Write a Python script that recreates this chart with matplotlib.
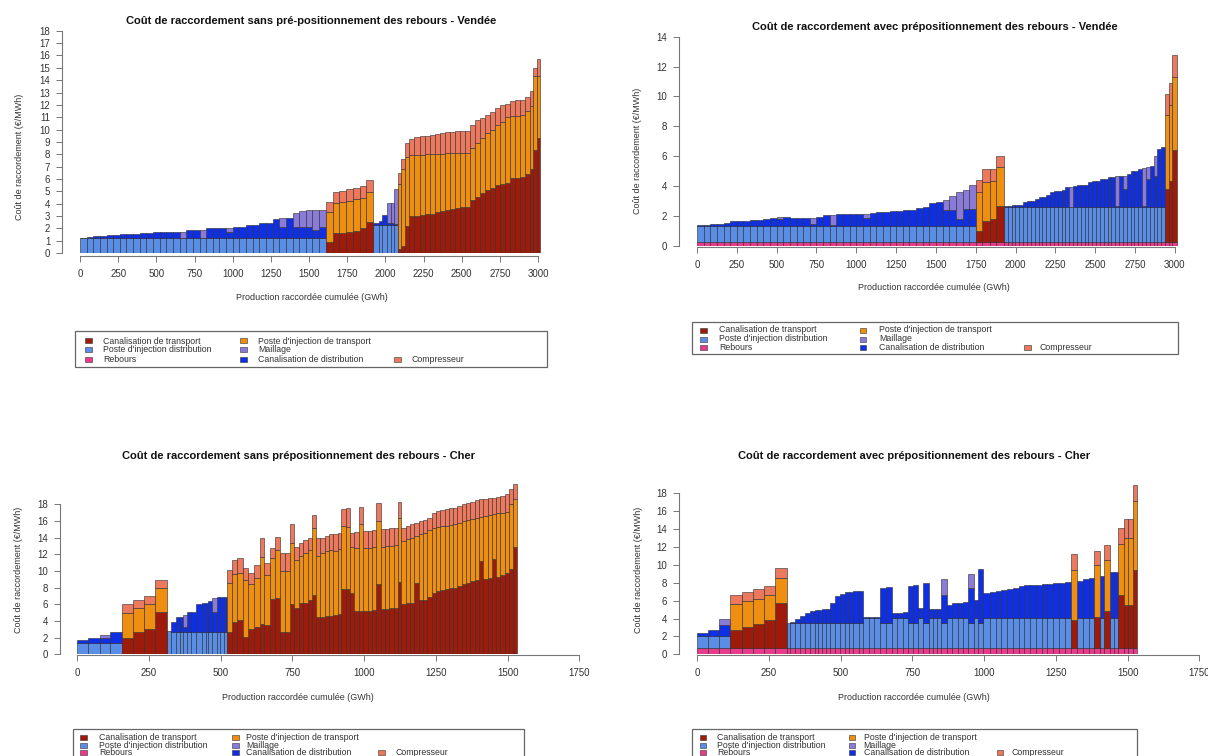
import numpy as np
import matplotlib
matplotlib.use("Agg")
import matplotlib.pyplot as plt
from matplotlib.patches import Rectangle

plt.rcParams['font.family'] = ['Liberation Sans', 'DejaVu Sans']

FIG_W, FIG_H = 1208, 756

# ------------------------------------------------------------------ categories
CT, PID, REB, PIT, MAIL, CD, COMP = ("Canalisation de transport", "Poste d'injection distribution",
                                     "Rebours", "Poste d'injection de transport", "Maillage",
                                     "Canalisation de distribution", "Compresseur")
categories = [CT, PID, REB, PIT, MAIL, CD, COMP]
colors = {CT: "#9e1b0c", PID: "#5a8de6", REB: "#ea3a8c", PIT: "#ef8f12",
          MAIL: "#8b7bd9", CD: "#0f2fe6", COMP: "#ec785e"}

# Each bar is a site: width = production (GWh). Kind "D" (distribution): base=PID, mid=CD, top=Maillage
# Kind "T" (transport): base=Canalisation de transport, mid=Poste d'injection de transport, top=Compresseur

# ------------------------------------------------------------------ Panel 1 : Vendee sans
p1_width = ([43.5] * 37 + [44.5] * 7 + [35, 20, 33, 25, 25, 22]
            + [22, 26, 29] + [33] * 23 + [30, 21, 26, 22])
p1_kind = "D" * 37 + "T" * 7 + "D" * 6 + "T" * 30
p1_base = ([1.2] * 37
           + [0.92, 1.65, 1.65, 1.73, 1.81, 2.0, 2.54]
           + [2.3] * 6
           + [0.3, 0.6, 2.2, 3.0, 3.0, 3.1, 3.2, 3.2, 3.35, 3.43, 3.5, 3.6, 3.65, 3.7, 3.7,
              4.3, 4.57, 4.9, 5.1, 5.3, 5.5, 5.6, 5.7, 6.05, 6.1, 6.2, 6.4, 6.8, 8.35, 9.3])
p1_mid = ([0.07, 0.12, 0.21, 0.21, 0.29, 0.29, 0.37, 0.37, 0.37, 0.45, 0.45, 0.50, 0.53, 0.53,
           0.53, 0.05, 0.66, 0.66, 0.05, 0.8, 0.8, 0.8, 0.55, 0.94, 0.94, 1.07, 1.07, 1.26,
           1.26, 1.53, 0.88, 1.61, 0.9, 0.9, 0.92, 0.66, 0.94]
          + [2.43, 2.43, 2.51, 2.47, 2.54, 2.49, 2.43]
          + [0.16, 0.3, 0.78, 0.16, 0.16, 0.1]
          + [5.3, 6.2, 5.6, 4.95, 4.95, 4.85, 4.8, 4.8, 4.7, 4.62, 4.58, 4.48, 4.43, 4.38, 4.4,
             4.2, 4.33, 4.4, 4.6, 4.7, 4.9, 5.0, 5.3, 5.05, 5.0, 5.0, 5.1, 5.1, 5.95, 5.0])
p1_top = ([0] * 15 + [0.5, 0, 0, 0.65, 0, 0, 0, 0.3] + [0] * 7 + [0.73, 0, 1.17, 1.34, 1.37, 1.64, 1.35]
          + [0.81, 0.89, 0.89, 0.99, 0.95, 0.94, 0.95]
          + [0, 0, 0, 1.57, 1.57, 2.76]
          + [0.9, 0.8, 1.1, 1.27, 1.45, 1.5, 1.5, 1.57, 1.6, 1.67, 1.7, 1.76, 1.8, 1.84, 1.82,
             1.9, 1.9, 1.67, 1.5, 1.45, 1.35, 1.4, 1.1, 1.25, 1.3, 1.2, 1.1, 1.2, 0.67, 1.4])
p1_rebours = 0.0

# ------------------------------------------------------------------ Panel 2 : Vendee avec
p2_width = [41.67] * 42 + [42, 48, 35, 52] + [24.07] * 42 + [25, 20, 27]
p2_kind = "D" * 42 + "T" * 4 + "D" * 42 + "T" * 3
p2_base = [1.08] * 42 + [0.73, 1.41, 1.52, 2.42] + [2.31] * 42 + [3.54, 4.1, 6.12]
p2_mid = ([0.04, 0.08, 0.15, 0.15, 0.22, 0.29, 0.31, 0.33, 0.38, 0.40, 0.47, 0.51, 0.43, 0.56,
           0.53, 0.51, 0.51, 0.15, 0.60, 0.71, 0.05, 0.78, 0.78, 0.78, 0.78, 0.49, 0.89, 0.93,
           0.93, 1.0, 1.0, 1.07, 1.07, 1.18, 1.27, 1.5, 1.6, 1.05, 1.05, 0.45, 1.1, 1.1]
          + [2.59, 2.58, 2.54, 2.58]
          + [0.11, 0.11, 0.18, 0.18, 0.18, 0.33, 0.45, 0.45, 0.56, 0.72, 0.72, 0.85, 1.01, 1.12,
             1.12, 1.19, 1.34, 0.0, 1.41, 1.5, 1.5, 1.52, 1.68, 1.79, 1.79, 1.9, 1.9, 2.02, 2.02,
             0.11, 2.12, 1.22, 2.24, 2.46, 2.46, 2.58, 0.11, 1.92, 2.8, 2.12, 3.92, 4.02]
          + [4.93, 5.03, 4.91])
p2_top = ([0] * 12 + [0.15, 0, 0, 0, 0, 0.36, 0, 0, 0.66, 0, 0, 0, 0, 0.29] + [0] * 11
          + [0.65, 0.95, 1.8, 1.28, 1.65]
          + [0.83, 0.9, 0.83, 0.78]
          + [0] * 17 + [1.34] + [0] * 11 + [2.01, 0, 0.9, 0, 0, 0, 0, 2.51, 0.77, 0, 1.35, 0, 0]
          + [1.46, 1.47, 1.48])
p2_rebours = 0.27

# ------------------------------------------------------------------ Panel 3 : Cher sans
p3_width = ([38, 41, 35, 41] + [38, 39, 39, 40]
            + [17, 16, 14, 12, 12, 16, 16, 19, 14, 10, 11, 18, 12, 12, 13]
            + [17, 18, 18, 20, 21, 20, 13, 21, 19, 18, 16, 16, 16, 16, 16, 16, 14, 14, 15, 15,
               15, 15, 15, 13, 15, 15, 15, 18, 14, 15, 15, 14, 17, 15, 15, 15, 15, 12]
            + [15] * 25 + [13, 15])
p3_kind = "D" * 4 + "T" * 4 + "D" * 15 + "T" * 65
p3_base = ([1.32] * 4 + [2.0, 2.64, 3.04, 5.12] + [2.8] + [2.72] * 14
           + [2.7, 3.9, 4.1, 2.1, 3.0, 3.3, 3.6, 3.5, 6.6, 6.8, 2.7, 2.7, 6.0, 5.5, 6.1, 6.1, 6.5,
              7.1, 4.5, 4.5, 4.6, 4.6, 4.7, 4.8, 7.8, 7.8, 7.3, 5.2, 5.2, 5.2, 5.2, 5.3, 8.4, 5.4,
              5.4, 5.5, 5.5, 8.7, 6.0, 6.1, 6.2, 8.5, 6.5, 6.5, 6.9, 7.3, 7.6, 7.7, 7.8, 7.9, 8.0,
              8.2, 8.4, 8.6, 8.8, 8.9, 11.2, 9.0, 9.1, 11.4, 9.3, 9.5, 9.7, 10.2, 12.9])
p3_mid = ([0.4, 0.68, 0.68, 1.32] + [2.92, 2.88, 2.96, 2.8]
          + [0, 1.2, 1.8, 1.8, 0.6, 2.4, 2.4, 3.32, 3.48, 3.48, 3.68, 2.4, 4.2, 4.2, 4.2]
          + [5.8, 5.7, 5.7, 6.8, 5.4, 5.9, 8.1, 6.0, 4.9, 5.7, 7.3, 7.3, 7.3, 5.8, 5.7, 6.1, 6.0,
             8.0, 7.3, 7.7, 7.8, 7.9, 7.7, 7.8, 7.6, 7.5, 5.6, 7.5, 10.4, 7.6, 7.6, 7.6, 7.6, 7.5,
             7.6, 7.5, 7.6, 7.6, 7.6, 7.7, 7.8, 5.7, 7.9, 8.1, 8.0, 7.9, 7.7, 7.7, 7.6, 7.6, 7.6,
             7.6, 7.6, 7.5, 7.4, 7.4, 5.3, 7.6, 7.6, 5.4, 7.6, 7.5, 7.4, 7.8, 5.7])
p3_top = ([0, 0, 0.32, 0] + [1.08, 1.0, 1.0, 1.0]
          + [0, 0, 0, 0, 1.4, 0, 0, 0, 0, 0, 0, 1.6, 0, 0, 0]
          + [1.6, 1.7, 1.7, 1.5, 1.4, 1.5, 2.2, 1.5, 1.3, 1.6, 2.2, 2.2, 2.3, 1.6, 1.6, 1.5, 1.5,
             1.6, 2.2, 1.8, 1.8, 1.9, 2.0, 1.9, 2.0, 2.2, 1.7, 2.0, 2.1, 2.0, 2.0, 2.0, 2.1, 2.1,
             2.0, 2.1, 2.0, 2.0, 1.6, 1.6, 1.6, 1.6, 1.6, 1.5, 1.5, 1.8, 1.9, 1.9, 2.0, 2.0, 2.0,
             2.0, 2.0, 2.0, 2.1, 2.2, 2.1, 2.0, 2.0, 2.0, 2.0, 2.0, 2.1, 1.8, 1.8])
p3_rebours = 0.0

# ------------------------------------------------------------------ Panel 4 : Cher avec
p4_width = ([38, 39, 37] + [41, 38, 39, 39, 40]
            + [12, 17, 18, 17, 18, 17, 12, 11, 14, 15, 18, 17, 18, 15, 14, 18, 17, 19, 19, 20,
               20, 20, 20, 19, 19, 17, 18, 18, 21, 14, 14, 14, 20, 18, 18, 19, 19, 20, 14, 18,
               23, 20, 20, 20, 20, 20, 20, 20, 20, 20, 20, 20, 20, 22, 22, 20, 21, 19, 19, 20,
               14, 23, 14, 13, 19, 16, 15, 16])
p4_kind = "DDD" + "TTTTT" + "D" * 55 + "T" + "DDD" + "T" + "D" + "T" + "DD" + "TTTT"
p4_base = ([1.34, 1.34, 1.34] + [1.97, 2.35, 2.61, 3.09, 5.03]
           + [2.72] * 17 + [3.35] * 3 + [2.72] * 2 + [3.35] * 3 + [2.72] * 2 + [3.35, 2.72]
           + [3.35] * 3 + [2.72] + [3.35] * 4 + [2.72, 3.35, 2.72] + [3.35] * 15
           + [3.09, 3.35, 3.35, 3.35, 3.47, 3.35, 4.1, 3.35, 3.35, 5.89, 4.77, 4.77, 8.69])
p4_mid = ([0.34, 0.63, 1.19] + [2.91, 2.9, 2.8, 2.8, 2.8]
          + [0, 0.19, 0.45, 0.82, 1.12, 1.38, 1.49, 1.49, 1.57, 1.57, 2.31, 3.06, 3.28, 3.53,
             3.53, 3.62, 3.62, 0.12, 0.12, 0.12, 3.92, 4.03, 0.56, 0.56, 0.6, 4.18, 4.29, 1.05,
             4.48, 0.94, 0.94, 0.94, 3.17, 1.45, 1.6, 1.65, 1.7, 3.92, 1.98, 6.03, 2.73, 2.9,
             3.0, 3.1, 3.2, 3.35, 3.5, 3.6, 3.65, 3.7, 3.75, 3.8, 3.85, 3.9, 3.95, 5.6, 4.1,
             4.3, 4.4, 5.78, 4.67, 5.71, 5.1, 5.15, 5.71, 7.46, 7.46, 7.66])
p4_top = ([0, 0, 0.68] + [1.01, 1.0, 1.12, 1.05, 1.12]
          + [0] * 32 + [1.76] + [0] * 4 + [1.57] + [0] * 17
          + [1.76, 0, 0, 0, 1.6, 0, 1.68, 0, 0, 1.75, 2.12, 2.12, 1.85])
p4_rebours = 0.75

# ------------------------------------------------------------------ texts
titles = ["Coût de raccordement sans pré-positionnement des rebours - Vendée",
          "Coût de raccordement avec prépositionnement des rebours - Vendée",
          "Coût de raccordement sans prépositionnement des rebours - Cher",
          "Coût de raccordement avec prépositionnement des rebours - Cher"]
xlabel = "Production raccordée cumulée (GWh)"
ylabel = "Coût de raccordement (€/MWh)"

fig = plt.figure(figsize=(FIG_W / 100, FIG_H / 100), dpi=100)
EDGE = dict(edgecolor="#2a2a2a", linewidth=0.4)


def fx(x):
    return x / FIG_W


def fy(y):
    return 1 - y / FIG_H


def make_axes(x0, xs, y0, ys, xlim, ylim, yaxis_px, xaxis_px, xticks, yticks):
    left = x0 + xlim[0] * xs
    right = x0 + xlim[1] * xs
    top = y0 - ylim[1] * ys
    bottom = y0 - ylim[0] * ys
    ax = fig.add_axes([fx(left), fy(bottom), (right - left) / FIG_W, (bottom - top) / FIG_H])
    ax.set_xlim(*xlim)
    ax.set_ylim(*ylim)
    ax.patch.set_visible(False)
    for s in ("top", "right"):
        ax.spines[s].set_visible(False)
    for s in ("left", "bottom"):
        ax.spines[s].set_color("#777777")
        ax.spines[s].set_linewidth(0.8)
    ax.spines["left"].set_position(("outward", (left - yaxis_px) * 0.72))
    ax.spines["left"].set_bounds(yticks[0], yticks[-1])
    ax.spines["bottom"].set_position(("outward", max(xaxis_px - bottom, 0) * 0.72))
    ax.spines["bottom"].set_bounds(xticks[0], xticks[-1])
    ax.set_xticks(xticks)
    ax.set_yticks(yticks)
    ax.set_xticklabels([str(t) for t in xticks])
    ax.set_yticklabels([str(t) for t in yticks])
    ax.tick_params(axis="both", length=4, width=0.7, color="#777777", labelsize=7,
                   labelcolor="#333333")
    ax.tick_params(axis="x", pad=5.3)
    ax.tick_params(axis="y", pad=4.4)
    return ax


def draw_bars(ax, width, kind, base, mid, top, reb):
    width = np.asarray(width, float)
    left = np.concatenate([[0.0], np.cumsum(width)[:-1]])
    kind = np.array(list(kind))
    base = np.asarray(base, float)
    mid = np.asarray(mid, float)
    top = np.asarray(top, float)
    start = np.full(len(width), reb)
    if reb > 0:
        ax.bar(left, start, width=width, align="edge", color=colors[REB], **EDGE)
    is_d = kind == "D"
    for mask, names in ((is_d, (PID, CD, MAIL)), (~is_d, (CT, PIT, COMP))):
        b = start.copy()
        for vals, name in zip((base, mid, top), names):
            m = mask & (vals > 0)
            ax.bar(left[m], vals[m], width=width[m], bottom=b[m], align="edge",
                   color=colors[name], **EDGE)
            b = b + vals


def draw_legend(box, rows_y, mark_x, text_x, fs=6.3):
    x0, y0, x1, y1 = box
    fig.patches.append(Rectangle((fx(x0), fy(y1)), (x1 - x0) / FIG_W, (y1 - y0) / FIG_H,
                                 transform=fig.transFigure, fill=False,
                                 edgecolor="#666666", linewidth=0.9))
    layout = [(0, 0), (0, 1), (0, 2), (1, 0), (1, 1), (1, 2), (2, 2)]
    for name, (c, r) in zip(categories, layout):
        y = rows_y[r]
        fig.patches.append(Rectangle((fx(mark_x[c] - 3.5), fy(y + 2.5)), 7 / FIG_W, 5 / FIG_H,
                                     transform=fig.transFigure, facecolor=colors[name],
                                     edgecolor="#333333", linewidth=0.4))
        fig.text(fx(text_x[c]), fy(y), name, fontsize=fs, ha="left", va="center",
                 color="#333333")


panels = [
    dict(data=(p1_width, p1_kind, p1_base, p1_mid, p1_top, p1_rebours),
         ax=(80, 0.15267, 253.2, 12.36, (-40, 3100), (0, 18.6), 62, 256,
             list(range(0, 3001, 250)), list(range(0, 19, 1))),
         title=(311, 20.5), xl=(311.5, 297.5), yl=(20, 157),
         legend=((75, 331, 547, 367), (341, 349.5, 359), (88, 243, 397), (103, 258, 412))),
    dict(data=(p2_width, p2_kind, p2_base, p2_mid, p2_top, p2_rebours),
         ax=(697, 0.1593, 246, 14.95, (-40, 3100), (0, 14.4), 679, 247,
             list(range(0, 3001, 250)), list(range(0, 15, 2))),
         title=(935, 26.7), xl=(934, 287.5), yl=(638, 151),
         legend=((692, 322, 1178, 354), (330, 339, 347.5), (704, 863, 1027), (719, 879, 1040))),
    dict(data=(p3_width, p3_kind, p3_base, p3_mid, p3_top, p3_rebours),
         ax=(77.3, 0.2869, 654.3, 8.333, (-30, 1800), (0, 21), 60, 655,
             list(range(0, 1751, 250)), list(range(0, 19, 2))),
         title=(298, 456), xl=(298, 697), yl=(19, 570),
         legend=((73, 729, 524, 770), (737.7, 745, 752.3), (84, 235, 381.5), (99, 246, 396))),
    dict(data=(p4_width, p4_kind, p4_base, p4_mid, p4_top, p4_rebours),
         ax=(697.3, 0.2869, 654.3, 8.944, (-30, 1800), (0, 19.5), 679, 655,
             list(range(0, 1751, 250)), list(range(0, 19, 2))),
         title=(914, 456), xl=(914, 697), yl=(638.5, 570),
         legend=((692, 729, 1137, 770), (737.7, 745, 752.3), (703, 852, 1000), (717, 863.5, 1011))),
]

for title, p in zip(titles, panels):
    ax = make_axes(*p["ax"])
    draw_bars(ax, *p["data"])
    fig.text(fx(p["title"][0]), fy(p["title"][1]), title, fontsize=8, fontweight="bold",
             ha="center", va="center", color="#111111")
    fig.text(fx(p["xl"][0]), fy(p["xl"][1]), xlabel, fontsize=6.5, ha="center", va="center",
             color="#333333")
    fig.text(fx(p["yl"][0]), fy(p["yl"][1]), ylabel, fontsize=6.5, ha="center", va="center",
             rotation=90, color="#333333")
    draw_legend(*p["legend"])

fig.savefig("out.png", dpi=100)
